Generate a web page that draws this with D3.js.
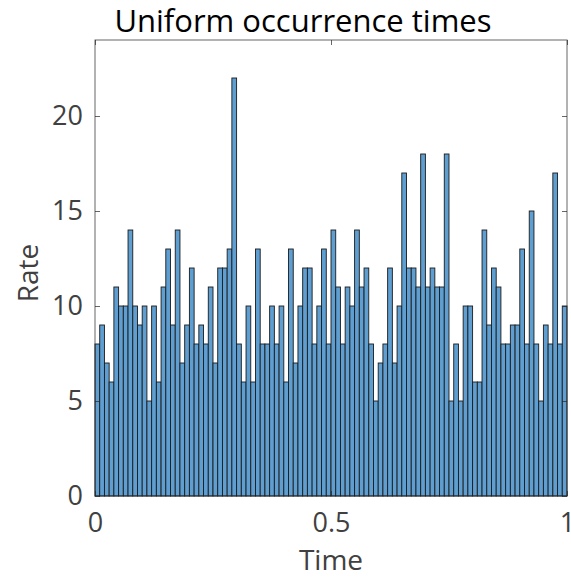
<!DOCTYPE html>
<html>
<head>
<meta charset="utf-8">
<script src="https://cdn.jsdelivr.net/npm/d3@7"></script>
<style>
  html, body { margin: 0; padding: 0; background: #fff; }
  svg { display: block; font-family: "Open Sans", sans-serif; }
</style>
</head>
<body>
<svg id="chart" width="571" height="579"></svg>
<script>
// Histogram of 1000 uniform occurrence times, 100 bins on [0, 1]
const binCounts = [
  8, 9, 7, 6, 11, 10, 10, 14, 10, 9, 10, 5, 10, 6, 11, 13, 9, 14, 7, 9, 12, 8, 9, 8, 11,
  7, 12, 12, 13, 22, 8, 6, 10, 6, 13, 8, 8, 10, 8, 10, 6, 13, 7, 10, 12, 12, 8, 10, 13, 8,
  14, 11, 8, 11, 10, 14, 11, 12, 8, 5, 7, 8, 12, 7, 10, 17, 12, 12, 11, 18, 11, 12, 11, 11, 18,
  5, 8, 5, 10, 10, 6, 6, 14, 9, 12, 11, 8, 8, 9, 9, 13, 8, 15, 8, 5, 9, 8, 17, 8, 10
];
const binEdges = d3.range(binCounts.length + 1).map(i => i / binCounts.length);
const xTicks = [0, 0.5, 1];
const xTickLabels = ["0", "0.5", "1"];
const yTicks = [0, 5, 10, 15, 20];
const titleText = "Uniform occurrence times";
const xLabel = "Time";
const yLabel = "Rate";

const svg = d3.select("#chart");
const plotLeft = 95, plotRight = 567, plotTop = 40, plotBottom = 496;

const x = d3.scaleLinear().domain([0, 1]).range([plotLeft, plotRight]);
const y = d3.scaleLinear().domain([0, 24]).range([plotBottom, plotTop]);

const axisColor = "#262626";
const labelColor = "#404040";

// bars
svg.append("g")
  .selectAll("rect")
  .data(binCounts)
  .join("rect")
  .attr("x", (d, i) => x(binEdges[i]))
  .attr("y", d => y(d))
  .attr("width", (d, i) => x(binEdges[i + 1]) - x(binEdges[i]))
  .attr("height", d => y(0) - y(d))
  .attr("fill", "rgb(94,158,208)")
  .attr("stroke", "#1c1c1c")
  .attr("stroke-width", 0.9);

// box around the plot area
svg.append("rect")
  .attr("x", plotLeft).attr("y", plotTop)
  .attr("width", plotRight - plotLeft).attr("height", plotBottom - plotTop)
  .attr("fill", "none")
  .attr("stroke", axisColor)
  .attr("stroke-opacity", 0.7)
  .attr("stroke-width", 1);

// bottom axis with inward ticks
const xAxis = d3.axisBottom(x)
  .tickValues(xTicks)
  .tickFormat((d, i) => xTickLabels[i])
  .tickSizeInner(-5)
  .tickSizeOuter(0)
  .tickPadding(17);
const gx = svg.append("g").attr("transform", `translate(0,${plotBottom})`).call(xAxis);
gx.select(".domain").remove();

// mirrored ticks on the top edge
svg.append("g").attr("transform", `translate(0,${plotTop})`)
  .call(d3.axisTop(x).tickValues(xTicks).tickFormat("").tickSizeInner(-5).tickSizeOuter(0))
  .select(".domain").remove();

// left axis with inward ticks
const yAxis = d3.axisLeft(y)
  .tickValues(yTicks)
  .tickSizeInner(-5)
  .tickSizeOuter(0)
  .tickPadding(12);
const gy = svg.append("g").attr("transform", `translate(${plotLeft},0)`).call(yAxis);
gy.select(".domain").remove();

// mirrored ticks on the right edge
svg.append("g").attr("transform", `translate(${plotRight},0)`)
  .call(d3.axisRight(y).tickValues(yTicks).tickFormat("").tickSizeInner(-5).tickSizeOuter(0))
  .select(".domain").remove();

svg.selectAll(".tick line").attr("stroke", axisColor).attr("stroke-opacity", 0.7);
svg.selectAll(".tick text")
  .attr("fill", labelColor)
  .style("font-family", "'Open Sans', sans-serif")
  .style("font-size", "27px");

// title
svg.append("text")
  .attr("x", 303)
  .attr("y", 32)
  .attr("text-anchor", "middle")
  .attr("fill", "#000")
  .style("font-size", "31px")
  .text(titleText);

// axis titles
svg.append("text")
  .attr("x", (plotLeft + plotRight) / 2)
  .attr("y", 570)
  .attr("text-anchor", "middle")
  .attr("fill", labelColor)
  .style("font-size", "28px")
  .text(xLabel);

svg.append("text")
  .attr("transform", `translate(38,273) rotate(-90)`)
  .attr("text-anchor", "middle")
  .attr("fill", labelColor)
  .style("font-size", "28px")
  .text(yLabel);
</script>
</body>
</html>
